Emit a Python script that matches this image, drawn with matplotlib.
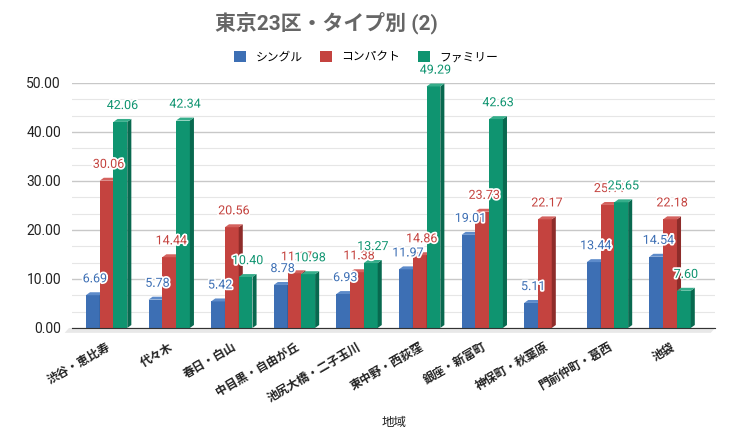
"""東京23区・タイプ別 (2) — 3D-looking grouped bars, recreated in matplotlib."""

import matplotlib
matplotlib.use("Agg")
import matplotlib.pyplot as plt
import matplotlib.patheffects as pe
from matplotlib.patches import Polygon
from matplotlib.ticker import MultipleLocator
import numpy as np

plt.rcParams["font.family"] = ["Roboto", "Noto Sans CJK JP", "DejaVu Sans"]

areas = ["渋谷・恵比寿", "代々木", "春日・白山", "中目黒・自由が丘", "池尻大橋・二子玉川",
         "東中野・西荻窪", "銀座・新富町", "神保町・秋葉原", "門前仲町・葛西", "池袋"]
series = ["シングル", "コンパクト", "ファミリー"]
single = [6.69, 5.78, 5.42, 8.78, 6.93, 11.97, 19.01, 5.11, 13.44, 14.54]
compact = [30.06, 14.44, 20.56, 11.17, 11.38, 14.86, 23.73, 22.17, 25.11, 22.18]
family = [42.06, 42.34, 10.40, 10.98, 13.27, 49.29, 42.63, np.nan, 25.65, 7.60]

front = ["#3d6fb4", "#c4433f", "#0f9470"]
side = ["#2b5088", "#8e2c2a", "#08694f"]
top = ["#5d8bca", "#d4625e", "#35ad8a"]

W = 0.22      # bar width (category units)
DX = 0.065    # depth, x
DY = 0.6      # depth, y (data units)


def bar3d(ax, xs, hs, k):
    ax.bar(xs, hs, W, color=front[k], zorder=3, label=series[k])
    for x, h in zip(xs, hs):
        if np.isnan(h):
            continue
        r = x + W / 2
        l = x - W / 2
        ax.add_patch(Polygon([(r, 0), (r + DX, DY), (r + DX, h + DY), (r, h)],
                             closed=True, color=side[k], zorder=3, lw=0))
        ax.add_patch(Polygon([(l, h), (l + DX, h + DY), (r + DX, h + DY), (r, h)],
                             closed=True, color=top[k], zorder=3, lw=0))
        ax.annotate(f"{h:.2f}", (x + DX / 2, h + DY), xytext=(0, 5), textcoords="offset points",
                    ha="center", va="bottom", fontsize=9, color=front[k], zorder=5,
                    path_effects=[pe.withStroke(linewidth=2.5, foreground="white")],
                    annotation_clip=False)


fig = plt.figure(figsize=(7.29, 4.45), dpi=100)
ax = fig.add_axes([0.099, 0.263, 0.882, 0.5505])

x = np.arange(len(areas))
for k, vals in enumerate([single, compact, family]):
    bar3d(ax, x + (k - 1) * W, np.array(vals, dtype=float), k)

ax.set_xlim(-0.55, 9.72)
ax.set_ylim(0, 50)
ax.yaxis.set_major_locator(MultipleLocator(10))
ax.yaxis.set_minor_locator(MultipleLocator(10 / 3))
ax.yaxis.set_major_formatter(lambda v, p: f"{v:.2f}")
ax.grid(axis="y", which="major", color="#c8c8c8", lw=1, zorder=0)
ax.grid(axis="y", which="minor", color="#e6e6e6", lw=0.8, zorder=0)
for s in ["top", "right", "left"]:
    ax.spines[s].set_visible(False)
ax.spines["bottom"].set_color("#333333")
ax.spines["bottom"].set_zorder(4)
ax.tick_params(axis="both", which="both", length=0)
ax.tick_params(axis="y", labelsize=10, labelcolor="#222222", pad=8)
ax.set_xticks(x)
ax.set_xticklabels(areas, rotation=30, ha="right", rotation_mode="anchor",
                   fontsize=8.5, fontweight="bold", color="#222222")
ax.tick_params(axis="x", pad=9)
ax.set_xlabel("地域", fontsize=9, color="#222222")
ax.xaxis.set_label_coords(0.5, -0.36)

# floor shadow under the baseline
ax.add_patch(Polygon([(-0.6, 0), (9.72, 0), (9.65, -1.0), (-0.67, -1.0)], closed=True,
                     color="#e8e8e8", lw=0, zorder=1, clip_on=False))

fig.text(0.295, 0.948, "東京23区・タイプ別 (2)", fontsize=15, fontweight="bold",
         color="#666666", ha="left", va="center")
fig.legend(loc="center", bbox_to_anchor=(0.502, 0.872), ncol=3, frameon=False,
           fontsize=8.5, handlelength=1.0, handleheight=1.0, columnspacing=1.5,
           handletextpad=0.8)

fig.savefig("out.png", dpi=100, facecolor="white")
